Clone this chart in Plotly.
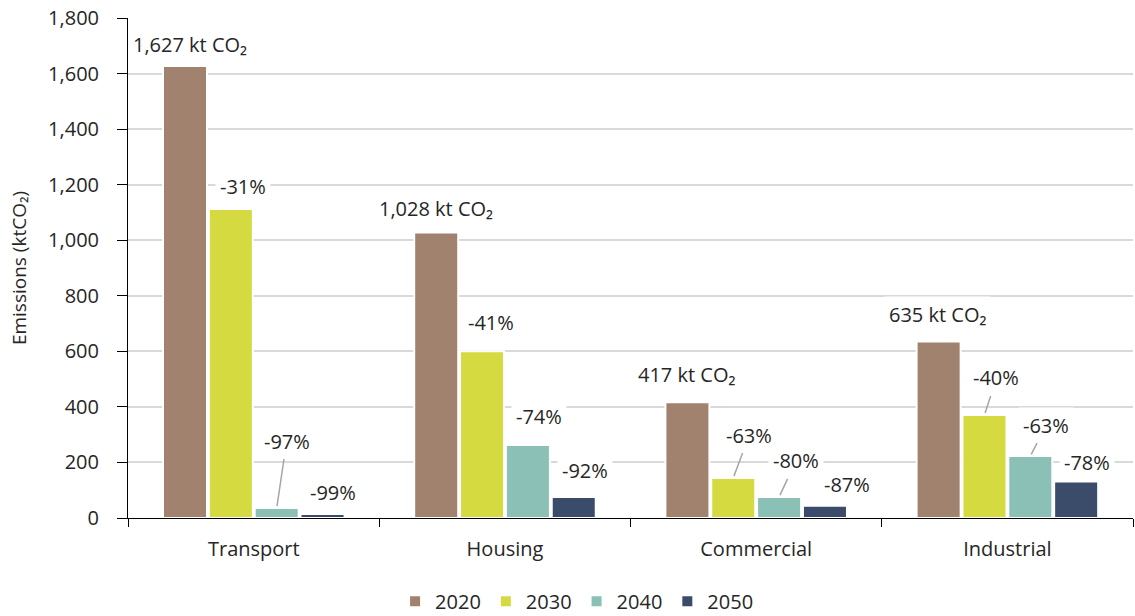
import plotly.graph_objects as go

categories = ["Transport", "Housing", "Commercial", "Industrial"]
years = ["2020", "2030", "2040", "2050"]
v2020 = [1627, 1028, 417, 635]
v2030 = [1112, 600, 144, 371]
v2040 = [36, 263, 76, 223]
v2050 = [14, 76, 44, 131]
labels2020 = ["1,627 kt CO₂", "1,028 kt CO₂", "417 kt CO₂", "635 kt CO₂"]
pct2030 = ["-31%", "-41%", "-63%", "-40%"]
pct2040 = ["-97%", "-74%", "-80%", "-63%"]
pct2050 = ["-99%", "-92%", "-87%", "-78%"]

colors = ["#A0826E", "#D4DA40", "#8AC0B6", "#3A4C6A"]
series = [v2020, v2030, v2040, v2050]
texts = [labels2020, pct2030, pct2040, pct2050]

# label offsets in pixels (dx, dy, leader line?) relative to bar top centre
offsets = [
    [(5, -22, False), (0, -24, False), (-1, -28, False), (-1, -27, False)],
    [(12, -23, False), (9, -29, False), (16, -43, True), (12, -37, True)],
    [(10, -67, True), (11, -28, False), (17, -36, True), (16, -31, True)],
    [(10, -22, False), (11, -26, False), (22, -21, False), (11, -19, False)],
]

FONT = "Open Sans"
FS = 20
TXT = "#262626"
bargap = 0.27
bargroupgap = 0.04
slot = (1 - bargap) / 4

fig = go.Figure()
for j, (yr, vals, col) in enumerate(zip(years, series, colors)):
    fig.add_trace(go.Bar(name=yr, x=categories, y=vals, marker_color=col,
                         marker_line_color="white", marker_line_width=2))

annotations = []
for j in range(4):
    for i in range(4):
        dx, dy, leader = offsets[j][i]
        xv = i + (j - 1.5) * slot
        yv = series[j][i]
        common = dict(x=xv, y=yv, xref="x", yref="y", text=texts[j][i],
                      font=dict(family=FONT, size=FS, color=TXT),
                      bgcolor="white", borderpad=4)
        if leader:
            annotations.append(dict(**common, showarrow=True, ax=dx, ay=dy,
                                    arrowhead=0, arrowwidth=1.5,
                                    arrowcolor="#A6A6A6", standoff=2))
        else:
            annotations.append(dict(**common, showarrow=False, xshift=dx,
                                    yshift=-dy, yanchor="middle"))

fig.update_layout(
    width=1135, height=616,
    margin=dict(l=128, r=2, t=18, b=98),
    paper_bgcolor="white", plot_bgcolor="white",
    barmode="group", bargap=bargap, bargroupgap=bargroupgap,
    font=dict(family=FONT, size=FS, color=TXT),
    annotations=annotations,
    showlegend=True,
    legend=dict(orientation="h", xref="container", yref="container",
                x=0.508, xanchor="center", y=0.024, yanchor="middle",
                font=dict(family=FONT, size=FS, color=TXT),
                itemsizing="constant"),
)
fig.update_xaxes(showline=True, linecolor="#000000", linewidth=1,
                 ticks="outside", tickson="boundaries", ticklen=8,
                 tickcolor="#000000", showgrid=False, automargin=False,
                 ticklabelstandoff=13,
                 tickfont=dict(family=FONT, size=FS, color=TXT))
fig.update_yaxes(range=[0, 1800], dtick=200, tickformat=",d",
                 showline=True, linecolor="#000000", linewidth=1,
                 ticks="outside", ticklen=10, tickcolor="#000000",
                 showgrid=True, gridcolor="#D9D9D9", gridwidth=2,
                 zeroline=False, automargin=False, ticklabelstandoff=14,
                 ticklabeloverflow="allow",
                 title=dict(text="Emissions (ktCO₂)", font=dict(family=FONT, size=19, color=TXT), standoff=16),
                 tickfont=dict(family=FONT, size=FS, color=TXT))

fig.write_html("out.html", config={"displayModeBar": False},
               post_script="document.body.style.margin='0';document.body.style.overflow='hidden';")
